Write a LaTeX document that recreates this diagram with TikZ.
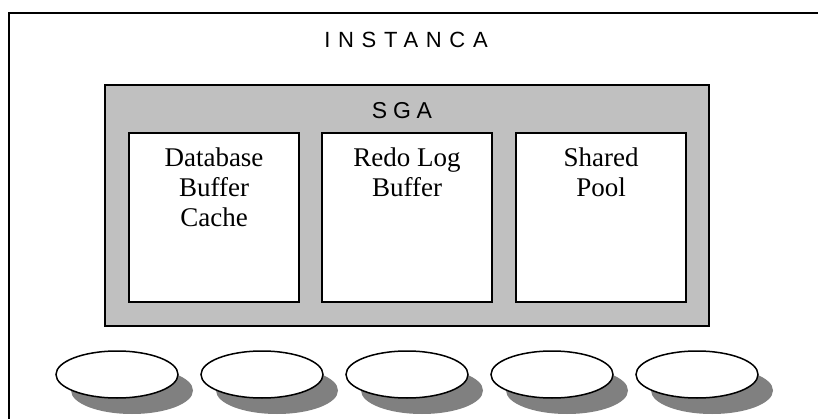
\documentclass[tikz,border=0pt]{standalone}
\usepackage{fontspec}
\setmainfont{Liberation Serif}
\newfontfamily\labelsans[LetterSpace=35]{Liberation Sans}
\newfontfamily\sgasans[LetterSpace=25]{Liberation Sans}
\usetikzlibrary{shapes.geometric,shadows}
\definecolor{sgagray}{HTML}{C0C0C0}
\definecolor{shadowgray}{HTML}{808080}
\tikzset{
  frame/.style={draw=black, line width=2pt},
  sgabox/.style={draw=black, line width=1.6pt, fill=sgagray},
  membox/.style={draw=black, line width=1.5pt, fill=white},
  memtext/.style={font=\fontsize{27}{30}\selectfont, align=center, inner sep=0pt, anchor=north},
  procoval/.style={ellipse, draw=black, line width=1.5pt, fill=white,
    minimum width=122pt, minimum height=47pt, inner sep=0pt,
    drop shadow={shadow xshift=15pt, shadow yshift=-16pt, fill=shadowgray, opacity=1}},
}
\begin{document}
\begin{tikzpicture}[x=1pt,y=-1pt]
  \useasboundingbox (0,0) rectangle (818,419);
  \clip (0,0) rectangle (818,419);
  % instance frame (runs past the right and bottom edges)
  \draw[frame] (9,440) -- (9,13) -- (840,13);
  \node[font=\labelsans\fontsize{22}{26}\selectfont, inner sep=0pt] (inst) at (406,40) {INSTANCA};
  % system global area
  \draw[sgabox] (105,85) rectangle (709,326);
  \node[font=\sgasans\fontsize{23}{26}\selectfont, inner sep=0pt] (sga) at (402,111) {SGA};
  % memory structures
  \draw[membox] (129,133) rectangle (299,302);
  \draw[membox] (322,133) rectangle (492,302);
  \draw[membox] (516,133) rectangle (686,302);
  \node[memtext] (dbc) at (214,148) {Database\\Buffer\\Cache};
  \node[memtext] (rlb) at (407,148) {Redo Log\\Buffer};
  \node[memtext] (shp) at (601,148) {Shared\\Pool};
  % background processes
  \foreach \i in {0,...,4}
    \node[procoval] (proc\i) at (117+145*\i,374.5) {};
\end{tikzpicture}
\end{document}
